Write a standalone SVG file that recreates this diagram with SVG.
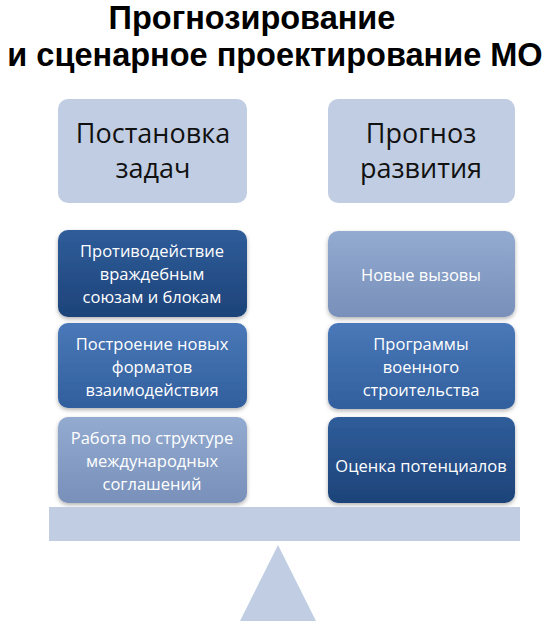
<svg xmlns="http://www.w3.org/2000/svg" width="550" height="627" viewBox="0 0 550 627">
<defs>
<linearGradient id="gDark" x1="0" y1="0" x2="0" y2="1"><stop offset="0" stop-color="#2f5d9a"/><stop offset="1" stop-color="#1d4379"/></linearGradient>
<linearGradient id="gMid" x1="0" y1="0" x2="0" y2="1"><stop offset="0" stop-color="#4a78b8"/><stop offset="1" stop-color="#315f9d"/></linearGradient>
<linearGradient id="gLight" x1="0" y1="0" x2="0" y2="1"><stop offset="0" stop-color="#93abd0"/><stop offset="1" stop-color="#7890ba"/></linearGradient>
<filter id="sh" x="-10%" y="-10%" width="120%" height="130%"><feDropShadow dx="0" dy="2" stdDeviation="2" flood-color="#000" flood-opacity="0.3"/></filter>
</defs>
<style>
.title{font-family:"Liberation Sans",Arial,sans-serif;font-weight:bold;font-size:32.5px;fill:#000;text-anchor:middle}
.head{fill:#c1cde2}
.headt{font-family:"Open Sans","Liberation Sans",sans-serif;font-size:27px;fill:#111;text-anchor:middle}
.it{font-family:"Open Sans","Liberation Sans",sans-serif;font-size:16.5px;fill:#fff;text-anchor:middle}
</style>
<rect width="550" height="627" fill="#fff"/>
<text class="title" x="252" y="29">Прогнозирование</text>
<text class="title" x="275" y="66">и сценарное проектирование МО</text>

<g id="head-left"><rect class="head" x="58" y="99" width="189" height="104" rx="10"/>
<text class="headt" x="153" y="143">Постановка</text><text class="headt" x="153" y="178">задач</text></g>
<g id="head-right"><rect class="head" x="328" y="99" width="187" height="104" rx="10"/>
<text class="headt" x="421" y="143">Прогноз</text><text class="headt" x="421" y="178">развития</text></g>

<g id="l1"><rect x="58" y="230" width="189" height="87" rx="10" fill="url(#gDark)" filter="url(#sh)"/>
<text class="it" x="152" y="257">Противодействие</text><text class="it" x="152" y="280">враждебным</text><text class="it" x="152" y="303">союзам и блокам</text></g>
<g id="l2"><rect x="58" y="323" width="189" height="85" rx="10" fill="url(#gMid)" filter="url(#sh)"/>
<text class="it" x="152" y="350">Построение новых</text><text class="it" x="152" y="373">форматов</text><text class="it" x="152" y="396">взаимодействия</text></g>
<g id="l3"><rect x="58" y="417" width="189" height="86" rx="10" fill="url(#gLight)" filter="url(#sh)"/>
<text class="it" x="152" y="444">Работа по структуре</text><text class="it" x="152" y="467">международных</text><text class="it" x="152" y="490">соглашений</text></g>

<g id="r1"><rect x="328" y="231" width="187" height="86" rx="10" fill="url(#gLight)" filter="url(#sh)"/>
<text class="it" x="421" y="281">Новые вызовы</text></g>
<g id="r2"><rect x="328" y="323" width="187" height="86" rx="10" fill="url(#gMid)" filter="url(#sh)"/>
<text class="it" x="421" y="350">Программы</text><text class="it" x="421" y="373">военного</text><text class="it" x="421" y="396">строительства</text></g>
<g id="r3"><rect x="328" y="417" width="187" height="86" rx="10" fill="url(#gDark)" filter="url(#sh)"/>
<text class="it" x="421" y="472">Оценка потенциалов</text></g>

<g id="scale">
<rect x="49" y="507" width="471" height="34" fill="#c1cde2"/>
<polygon points="278,545 316,621 240,621" fill="#c1cde2"/>
</g>
<g id="connectors"/>
</svg>
